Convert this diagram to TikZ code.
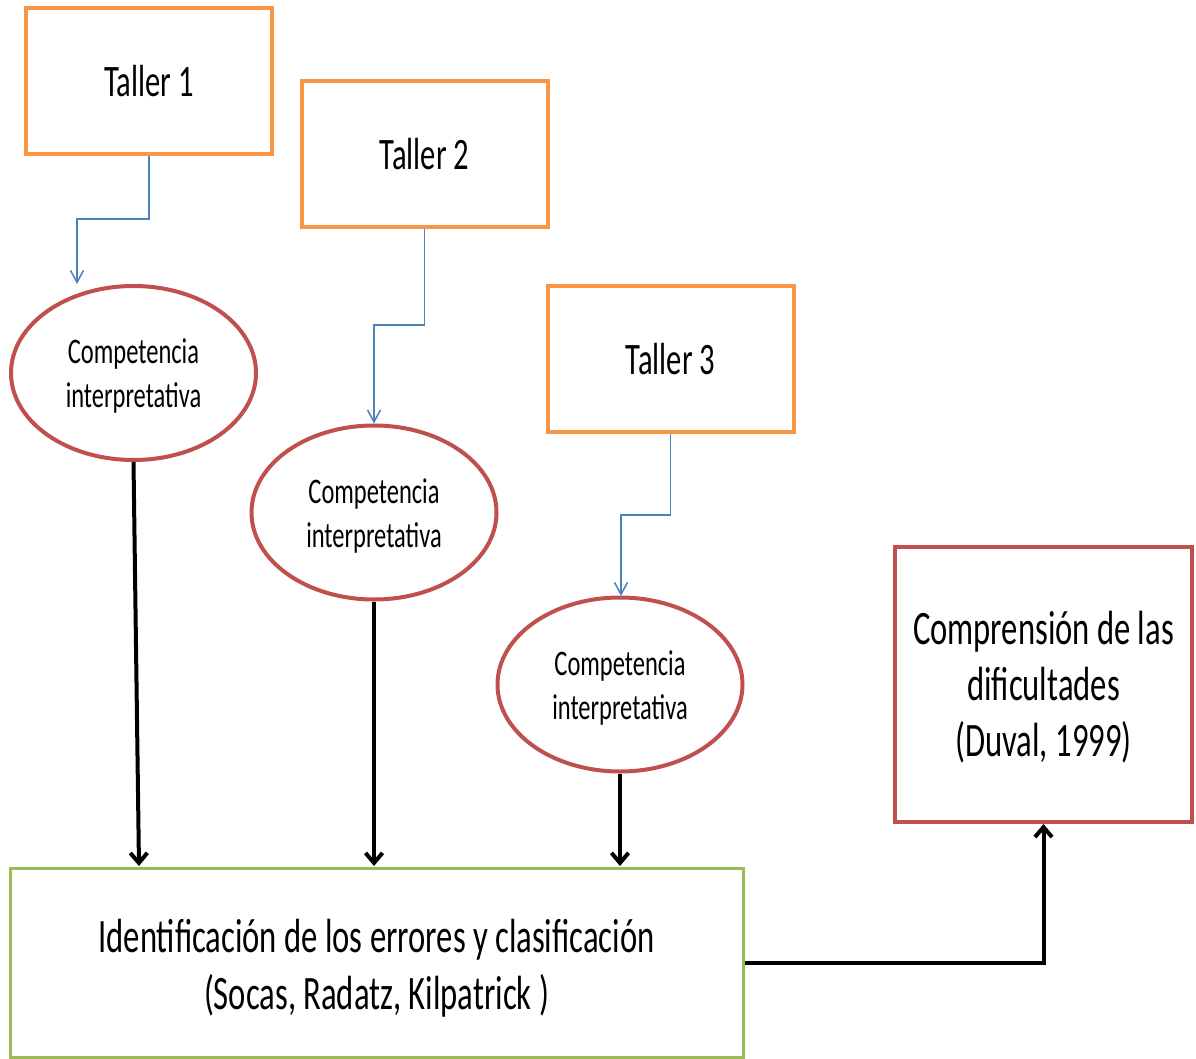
\documentclass[tikz,border=0pt]{standalone}
\usepackage{fontspec}
\setmainfont{Carlito}[FakeStretch=0.68]
\usetikzlibrary{shapes.geometric,arrows.meta}
\definecolor{orng}{HTML}{F79646}
\definecolor{ellred}{HTML}{C0504D}
\definecolor{grn}{HTML}{9BBB59}
\definecolor{blu}{HTML}{4F81BD}
\newcommand{\lowr}[2]{\raisebox{0pt}[\dimexpr\height+#1\relax]{#2}}
\begin{document}
\begin{tikzpicture}[x=1pt,y=-1pt,
  tallerbox/.style={draw=orng,line width=4pt,minimum width=246pt,minimum height=146pt,inner sep=0pt,font=\fontsize{45}{54}\selectfont},
  compell/.style={ellipse,draw=ellred,line width=4pt,minimum width=245pt,minimum height=174pt,inner sep=0pt,align=center,font=\fontsize{36}{44}\selectfont},
  bigbox/.style={draw=grn,line width=3pt,minimum width=733pt,minimum height=189pt,inner sep=0pt,align=center,font=\fontsize{48}{57}\selectfont},
  redbox/.style={draw=ellred,line width=4pt,minimum width=297pt,minimum height=275pt,inner sep=0pt,align=center,font=\fontsize{48}{56}\selectfont},
  blueline/.style={draw=blu,line width=1.5pt,-{Straight Barb[length=12pt,width=13pt]}},
  blackline/.style={draw=black,line width=4pt,-{Straight Barb[length=10pt,width=17pt]}}
]
\useasboundingbox (0,0) rectangle (1196,1059);
\fill[white] (0,0) rectangle (1196,1059);

\node[tallerbox] (t1) at (149,81) {Taller 1};
\node[tallerbox] (t2) at (424.5,154) {Taller 2};
\node[tallerbox] (t3) at (670.5,359) {Taller 3};

\node[compell] (e1) at (133.5,373) {\lowr{7pt}{Competencia}\\interpretativa};
\node[compell] (e2) at (374,512.5) {\lowr{7pt}{Competencia}\\interpretativa};
\node[compell] (e3) at (620,684.5) {\lowr{7pt}{Competencia}\\interpretativa};

\node[bigbox] (big) at (376.5,962.5) {\lowr{12pt}{Identificación de los errores y clasificación}\\(Socas, Radatz, Kilpatrick )};
\node[redbox] (comp) at (1043.5,684.5) {\lowr{6pt}{Comprensión de las}\\dificultades\\(Duval, 1999)};

\coordinate (j1) at (77,219);
\coordinate (a1) at (77,284);
\coordinate (j2) at (374,325);
\coordinate (j3) at (621,515);
\coordinate (a3) at (621,596);
\coordinate (b1) at (139,866);
\coordinate (b2) at (374,866);
\coordinate (b3) at (620,866);

\draw[blueline] (t1.south) |- (j1) -- (a1);
\draw[blueline] (t2.south) |- (j2) -- (e2.north);
\draw[blueline] (t3.south) |- (j3) -- (a3);

\draw[blackline] (e1.south) -- (b1);
\draw[blackline] (e2.south) -- (b2);
\draw[blackline] (e3.south) -- (b3);
\draw[blackline] (big.east) -| (comp.south);
\end{tikzpicture}
\end{document}
